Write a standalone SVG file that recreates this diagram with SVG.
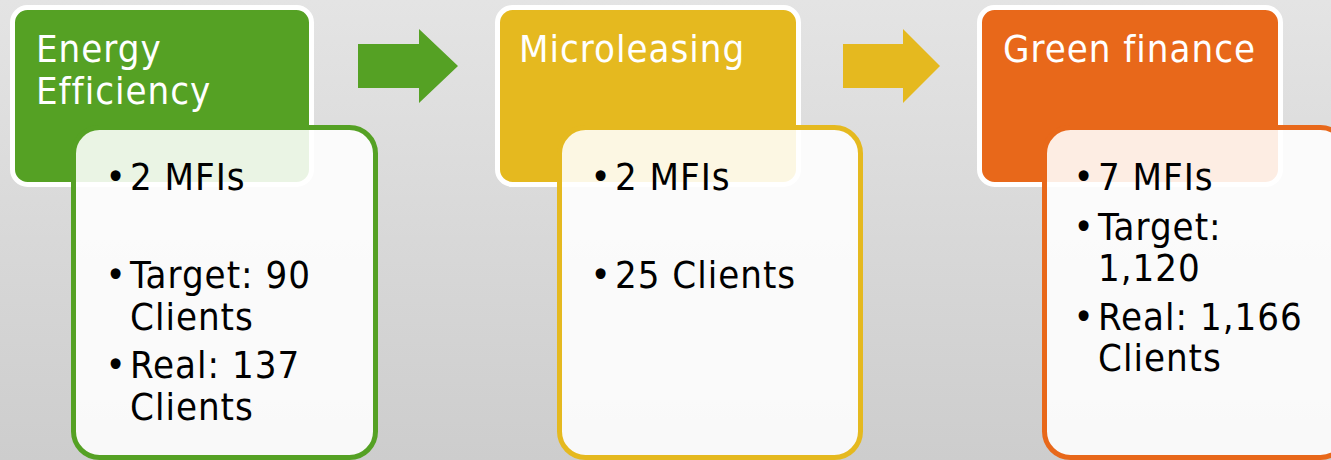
<svg xmlns="http://www.w3.org/2000/svg" width="1331" height="460" viewBox="0 0 1331 460">
<defs>
<linearGradient id="bg" x1="0" y1="0" x2="0" y2="1">
<stop offset="0" stop-color="#e4e4e4"/>
<stop offset="1" stop-color="#cdcdcd"/>
</linearGradient>
</defs>
<style>
.hdr{stroke:#ffffff;stroke-width:5}
.card{fill:#ffffff;fill-opacity:0.88;stroke-width:5}
.t{font-family:"DejaVu Sans",sans-serif;font-stretch:condensed;font-size:38px;letter-spacing:1px}
.ht{fill:#ffffff}
.bt{fill:#000000}
.g{fill:#55a124}.gs{stroke:#55a124}
.y{fill:#e5b91f}.ys{stroke:#e5b91f}
.o{fill:#e8681a}.os{stroke:#e8681a}
</style>
<rect x="0" y="0" width="1331" height="460" fill="url(#bg)"/>
<g id="connectors">
<polygon class="g" points="358,44 419,44 419,29 458,66 419,103 419,88 358,88"/>
<polygon class="y" points="843,44 903,44 903,29 940,66 903,103 903,88 843,88"/>
</g>
<g id="energy-efficiency">
<rect class="hdr g" x="12.5" y="7.5" width="299" height="177" rx="15"/>
<text class="t ht" x="36" y="62">Energy</text>
<text class="t ht" x="36" y="104">Efficiency</text>
<rect class="card gs" x="73.5" y="127.5" width="302" height="330" rx="26"/>
<text class="t bt" x="116" y="190" text-anchor="middle">•</text>
<text class="t bt" x="130" y="190">2 MFIs</text>
<text class="t bt" x="116" y="288" text-anchor="middle">•</text>
<text class="t bt" x="130" y="288">Target: 90</text>
<text class="t bt" x="130" y="330">Clients</text>
<text class="t bt" x="116" y="378" text-anchor="middle">•</text>
<text class="t bt" x="130" y="378">Real: 137</text>
<text class="t bt" x="130" y="420">Clients</text>
</g>
<g id="microleasing">
<rect class="hdr y" x="497.5" y="7.5" width="301" height="177" rx="15"/>
<text class="t ht" x="519" y="62">Microleasing</text>
<rect class="card ys" x="559.5" y="127.5" width="301" height="330" rx="26"/>
<text class="t bt" x="601" y="190" text-anchor="middle">•</text>
<text class="t bt" x="615" y="190">2 MFIs</text>
<text class="t bt" x="601" y="288" text-anchor="middle">•</text>
<text class="t bt" x="615" y="288">25 Clients</text>
</g>
<g id="green-finance">
<rect class="hdr o" x="979.5" y="7.5" width="301" height="177" rx="15"/>
<text class="t ht" x="1003" y="62">Green finance</text>
<rect class="card os" x="1044.5" y="127.5" width="302" height="330" rx="26"/>
<text class="t bt" x="1084" y="190" text-anchor="middle">•</text>
<text class="t bt" x="1098" y="190">7 MFIs</text>
<text class="t bt" x="1084" y="240" text-anchor="middle">•</text>
<text class="t bt" x="1098" y="240">Target:</text>
<text class="t bt" x="1098" y="281">1,120</text>
<text class="t bt" x="1084" y="330" text-anchor="middle">•</text>
<text class="t bt" x="1098" y="330">Real: 1,166</text>
<text class="t bt" x="1098" y="371">Clients</text>
</g>
</svg>
